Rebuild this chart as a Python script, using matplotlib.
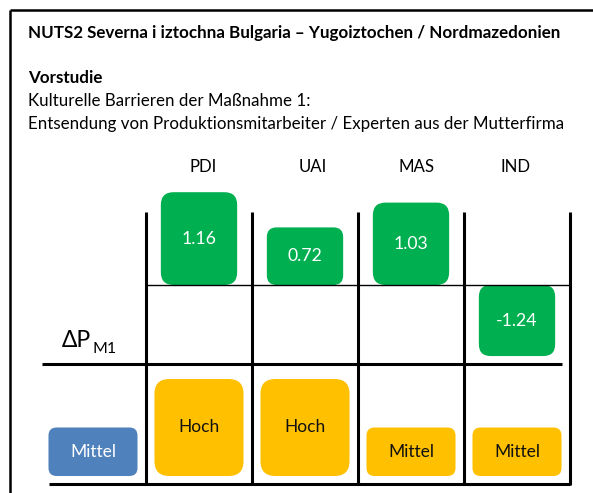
import numpy as np
import matplotlib
matplotlib.use("Agg")
import matplotlib.pyplot as plt
from matplotlib.patches import FancyBboxPatch

# ---------------- data ----------------
title = "NUTS2 Severna i iztochna Bulgaria – Yugoiztochen / Nordmazedonien"
section = "Vorstudie"
subtitle_1 = "Kulturelle Barrieren der Maßnahme 1:"
subtitle_2 = "Entsendung von Produktionsmitarbeiter / Experten aus der Mutterfirma"
row_label_main = "ΔP"
row_label_sub = "M1"
dimensions = ["PDI", "UAI", "MAS", "IND"]
delta_p = [1.16, 0.72, 1.03, -1.24]
reference_level = "Mittel"
dimension_levels = ["Hoch", "Hoch", "Mittel", "Mittel"]
level_score = {"Mittel": 1, "Hoch": 2}

# ---------------- style ----------------
W, H, DPI = 593, 493, 100
GREEN, ORANGE, BLUE = "#00B050", "#FFC000", "#4F81BD"
plt.rcParams['font.family'] = ['Lato', 'DejaVu Sans']

fig = plt.figure(figsize=(W / DPI, H / DPI), dpi=DPI)
fig.patch.set_facecolor("white")
ax0 = fig.add_axes([0, 0, 1, 1])
ax0.set_xlim(0, W)
ax0.set_ylim(H, 0)
ax0.axis("off")
renderer = fig.canvas.get_renderer()


def px_axes(x0, y0, x1, y1):
    a = fig.add_axes([x0 / W, 1 - y1 / H, (x1 - x0) / W, (y1 - y0) / H])
    a.axis("off")
    return a


def fit_size(s, width, **kw):
    t = ax0.text(0, 0, s, fontsize=10, **kw)
    bb = t.get_window_extent(renderer)
    t.remove()
    return 10 * width / bb.width


def to_px(ax, xs, ys):
    disp = ax.transData.transform(np.column_stack([xs, ys]))
    return ax0.transData.inverted().transform(disp)


def rbox(ax, xc, width, y0, y1, color):
    (xa, ya), (xb, yb) = to_px(ax, [xc - width / 2, xc + width / 2], [y0, y1])
    left, right = min(xa, xb), max(xa, xb)
    top, bottom = min(ya, yb), max(ya, yb)
    w, h = right - left, bottom - top
    r = 0.1667 * min(w, h)
    ax0.add_patch(FancyBboxPatch((left, top), w, h,
                                 boxstyle=f"round,pad=0,rounding_size={r}",
                                 fc=color, ec="none", zorder=2))
    return (left + right) / 2, (top + bottom) / 2


# ---------------- header texts ----------------
title_size = fit_size(title, 532, fontweight="bold")
sub_text_size = fit_size(subtitle_2, 532)
ax0.text(28.5, 33, title, fontsize=title_size, fontweight="bold", va="center", ha="left")
ax0.text(28.5, 78, section, fontsize=title_size, fontweight="bold", va="center", ha="left")
ax0.text(28.5, 101, subtitle_1, fontsize=sub_text_size, va="center", ha="left")
ax0.text(28.5, 124, subtitle_2, fontsize=sub_text_size, va="center", ha="left")

# ---------------- frame and grid lines ----------------
LW_THICK = 2.2
ax0.plot([10, 10], [10, H], color="black", lw=1.8, zorder=5, solid_capstyle="butt")
ax0.plot([10, W], [10, 10], color="black", lw=1.8, zorder=5, solid_capstyle="butt")
for xb in [146, 252, 358, 464, 570]:
    ax0.plot([xb, xb], [212, 485], color="black", lw=LW_THICK, zorder=5, solid_capstyle="butt")
ax0.plot([146, 570], [285, 285], color="black", lw=1.0, zorder=5)
ax0.plot([42, 562], [364, 364], color="black", lw=LW_THICK, zorder=5, solid_capstyle="butt")
ax0.plot([49, 570], [484, 484], color="black", lw=LW_THICK, zorder=5, solid_capstyle="butt")

# ---------------- top section: ΔP values ----------------
POS, NEG = 80.0, 57.3


def fwd(v):
    v = np.asarray(v, float)
    return np.where(v >= 0, v * POS, v * NEG)


def inv(p):
    p = np.asarray(p, float)
    return np.where(p >= 0, p / POS, p / NEG)


axT = px_axes(40, 180, 570, 360)
axT.set_xlim(-1.5, 3.5)
axT.set_yscale("function", functions=(fwd, inv))
axT.set_ylim(-75 / NEG, 105 / POS)

val_size = fit_size("1.16", 35)
head_size = fit_size("MAS", 36)
header_dx = [4, 8, 6, -1]
for i, (dim, v) in enumerate(zip(dimensions, delta_p)):
    cx, cy = rbox(axT, i, 0.72, 0, v, GREEN)
    ax0.text(cx, cy, f"{v:.2f}", color="white", fontsize=val_size,
             ha="center", va="center", zorder=3)
    hx, _ = to_px(axT, [i], [0])[0]
    ax0.text(hx + header_dx[i], 167, dim, fontsize=head_size,
             ha="center", va="center", color="black")

# row label ΔP_M1
main_size = fit_size(row_label_main, 29)
sub_size = fit_size(row_label_sub, 24)
t_main = ax0.text(62, 347, row_label_main, fontsize=main_size, ha="left", va="baseline")
bb = t_main.get_window_extent(renderer)
main_right = ax0.transData.inverted().transform((bb.x1, bb.y0))[0]
ax0.text(main_right + 1, 353, row_label_sub, fontsize=sub_size, ha="left", va="baseline")

# ---------------- bottom section: levels ----------------
axB = px_axes(40, 370, 570, 476)
axB.set_xlim(-1.5, 3.5)
axB.set_ylim(0, 106 / 48.5)

lvl_size = fit_size("Mittel", 46)
cx, cy = rbox(axB, -1, 0.84, 0, level_score[reference_level], BLUE)
ax0.text(cx, cy, reference_level, color="white", fontsize=lvl_size,
         ha="center", va="center", zorder=3)
for i, lvl in enumerate(dimension_levels):
    cx, cy = rbox(axB, i, 0.84, 0, level_score[lvl], ORANGE)
    ax0.text(cx, cy, lvl, color="#111111", fontsize=lvl_size,
             ha="center", va="center", zorder=3)

fig.savefig("out.png", dpi=DPI)
